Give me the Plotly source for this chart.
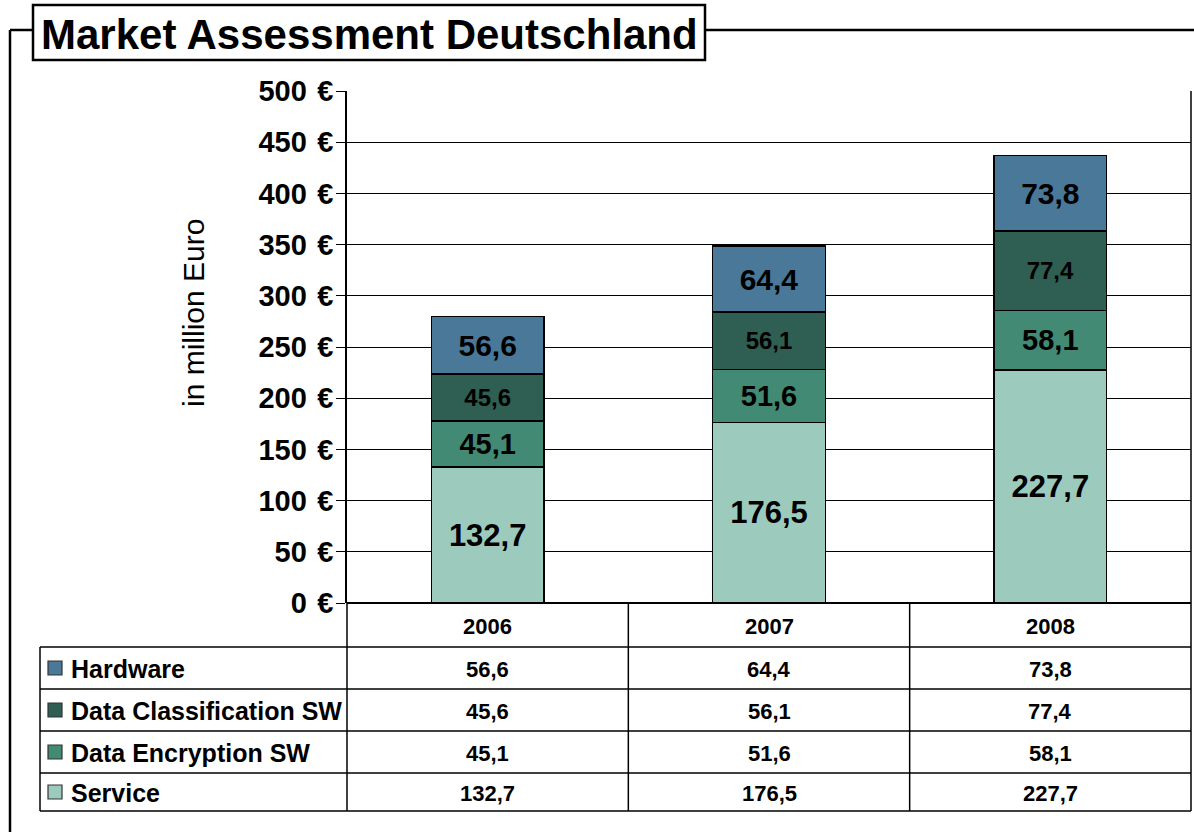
import plotly.graph_objects as go

years = ["2006", "2007", "2008"]
series_names = ["Service", "Data Encryption SW", "Data Classification SW", "Hardware"]
service = [132.7, 176.5, 227.7]
encryption = [45.1, 51.6, 58.1]
classification = [45.6, 56.1, 77.4]
hardware = [56.6, 64.4, 73.8]
y_ticks = [0, 50, 100, 150, 200, 250, 300, 350, 400, 450, 500]
title_text = "Market Assessment Deutschland"
y_title = "in million Euro"

colors = {"Service": "#9CCBBD", "Data Encryption SW": "#428A73",
          "Data Classification SW": "#2E5F52", "Hardware": "#4A7898"}
label_sizes = {"Service": 31, "Data Encryption SW": 29,
               "Data Classification SW": 24, "Hardware": 30}
values = {"Service": service, "Data Encryption SW": encryption,
          "Data Classification SW": classification, "Hardware": hardware}

W, H = 1194, 832
L, R, T, B = 347, 1191, 91, 603
FONT = "Liberation Sans, Arial, sans-serif"


def xp(px):
    return (px - L) / (R - L)


def yp(py):
    return (B - py) / (B - T)


def fmt(v):
    return f"{v:.1f}".replace(".", ",")


fig = go.Figure()
for name in series_names:
    fig.add_trace(go.Bar(
        x=years, y=values[name], name=name,
        marker=dict(color=colors[name], line=dict(color="black", width=1.5)),
        text=[fmt(v) for v in values[name]],
        texttemplate="<b>%{text}</b>",
        textposition="inside", insidetextanchor="middle", textangle=0,
        constraintext="none",
        textfont=dict(family=FONT, size=label_sizes[name], color="black"),
        showlegend=False, hoverinfo="skip",
    ))

shapes = []


def line(x0, y0, x1, y1, w=1.5):
    shapes.append(dict(type="line", xref="paper", yref="paper",
                       x0=xp(x0), y0=yp(y0), x1=xp(x1), y1=yp(y1),
                       line=dict(color="black", width=w)))


# outer frame
line(10, 30, 10, 834, 2.5)
line(10, 30, 33, 30, 2.5)
line(705, 30, 1196, 30, 2.5)
# title box
shapes.append(dict(type="rect", xref="paper", yref="paper",
                   x0=xp(33), y0=yp(5), x1=xp(705), y1=yp(60),
                   line=dict(color="black", width=2.5), fillcolor="white"))
# plot right border
line(R, T, R, 811, 1.5)
# table
line(L, 603, R, 603, 2)
for yy in [647, 689, 731, 773, 811]:
    line(40, yy, R, yy, 1.5)
line(40, 647, 40, 811, 1.5)
line(L, 603, L, 811, 1.5)
col_w = (R - L) / 3
for i in (1, 2):
    line(L + col_w * i, 603, L + col_w * i, 811, 1.5)

annotations = []
# title
annotations.append(dict(xref="paper", yref="paper", x=xp(369), y=yp(34),
                        text="<b>" + title_text + "</b>", showarrow=False,
                        font=dict(family=FONT, size=42, color="black"),
                        xanchor="center", yanchor="middle"))
# y title
annotations.append(dict(xref="paper", yref="paper", x=xp(193), y=yp(313),
                        text=y_title, textangle=-90, showarrow=False,
                        font=dict(family=FONT, size=30, color="black"),
                        xanchor="center", yanchor="middle"))
# header row years
for i, yr in enumerate(years):
    annotations.append(dict(xref="x", yref="paper", x=i, y=yp(626),
                            text="<b>" + yr + "</b>", showarrow=False,
                            font=dict(family=FONT, size=22, color="black"),
                            xanchor="center", yanchor="middle"))
# rows
row_order = ["Hardware", "Data Classification SW", "Data Encryption SW", "Service"]
row_centers = [668, 710, 752, 792]
for name, cy in zip(row_order, row_centers):
    shapes.append(dict(type="rect", xref="paper", yref="paper",
                       x0=xp(48), y0=yp(cy - 7), x1=xp(62), y1=yp(cy + 7),
                       line=dict(color="#333333", width=1.2),
                       fillcolor=colors[name]))
    annotations.append(dict(xref="paper", yref="paper", x=xp(69), y=yp(cy + 1),
                            text="<b>" + name + "</b>", showarrow=False,
                            font=dict(family=FONT, size=25, color="black"),
                            xanchor="left", yanchor="middle"))
    for i, v in enumerate(values[name]):
        annotations.append(dict(xref="x", yref="paper", x=i, y=yp(cy + 1),
                                text="<b>" + fmt(v) + "</b>", showarrow=False,
                                font=dict(family=FONT, size=22, color="black"),
                                xanchor="center", yanchor="middle"))

fig.update_layout(
    width=W, height=H,
    margin=dict(l=L, r=W - R, t=T, b=H - B, pad=0),
    paper_bgcolor="white", plot_bgcolor="white",
    barmode="stack", bargap=0.6,
    separators=",.",
    shapes=shapes, annotations=annotations,
    showlegend=False,
    font=dict(family=FONT, color="black"),
    xaxis=dict(type="category", range=[-0.5, 2.5], showticklabels=False,
               showgrid=False, zeroline=False, showline=False, ticks=""),
    yaxis=dict(range=[0, 500], tickvals=y_ticks,
               ticktext=[f"<b>{v} \u200a€</b>" for v in y_ticks],
               tickfont=dict(family=FONT, size=29, color="black"),
               showgrid=True, gridcolor="black", gridwidth=1.2,
               zeroline=False, showline=True, linecolor="black", linewidth=1.5,
               ticks="outside", ticklen=9, tickcolor="black", tickwidth=1.2,
               ticklabelstandoff=-3),
)

fig.write_html("out.html",
               config={"displayModeBar": False},
               post_script="document.body.style.margin='0px';"
                           "document.body.style.overflow='hidden';")
